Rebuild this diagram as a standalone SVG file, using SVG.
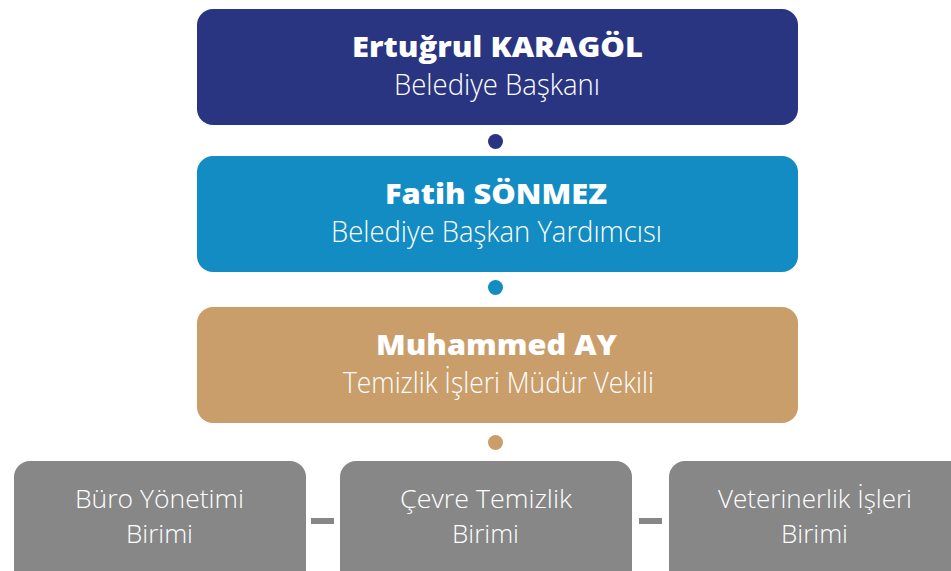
<svg xmlns="http://www.w3.org/2000/svg" width="951" height="571" viewBox="0 0 951 571">
<style>
.t{font-family:"Open Sans","Liberation Sans",sans-serif;font-weight:800;font-size:29px;fill:#fff;text-anchor:middle}
.s{font-family:"Open Sans","Liberation Sans",sans-serif;font-weight:300;font-size:29px;fill:#fff;text-anchor:middle}
.u{font-family:"Open Sans","Liberation Sans",sans-serif;font-weight:300;font-size:26px;fill:#fff;text-anchor:middle}
.g{fill:#878787}
</style>
<rect width="951" height="571" fill="#fff"/>
<g id="connectors">
<circle cx="495.5" cy="141.5" r="7.5" fill="#2A3582"/>
<circle cx="495.5" cy="287.5" r="7.5" fill="#128CC2"/>
<circle cx="495.5" cy="442.5" r="7.5" fill="#C99E6B"/>
<rect x="311" y="518" width="23" height="6" class="g"/>
<rect x="639" y="518" width="23" height="6" class="g"/>
</g>
<g id="n1">
<rect x="197" y="9" width="601" height="116" rx="16" fill="#2A3582"/>
<text class="t" x="497.5" y="57" textLength="291" lengthAdjust="spacingAndGlyphs">Ertuğrul KARAGÖL</text>
<text class="s" x="497" y="95" textLength="206" lengthAdjust="spacingAndGlyphs">Belediye Başkanı</text>
</g>
<g id="n2">
<rect x="197" y="156" width="601" height="116" rx="16" fill="#128CC2"/>
<text class="t" x="496" y="203.5" textLength="222" lengthAdjust="spacingAndGlyphs">Fatih SÖNMEZ</text>
<text class="s" x="496.5" y="241.7" textLength="331" lengthAdjust="spacingAndGlyphs">Belediye Başkan Yardımcısı</text>
</g>
<g id="n3">
<rect x="197" y="307" width="601" height="116" rx="16" fill="#C99E6B"/>
<text class="t" x="496.5" y="354.5" textLength="241" lengthAdjust="spacingAndGlyphs">Muhammed AY</text>
<text class="s" x="498.5" y="392.7" textLength="311" lengthAdjust="spacingAndGlyphs">Temizlik İşleri Müdür Vekili</text>
</g>
<g id="n4">
<rect x="14" y="461" width="292" height="130" rx="16" class="g"/>
<text class="u" x="159.5" y="507.7" textLength="169" lengthAdjust="spacingAndGlyphs">Büro Yönetimi</text>
<text class="u" x="159.5" y="542.7" textLength="67" lengthAdjust="spacingAndGlyphs">Birimi</text>
</g>
<g id="n5">
<rect x="340" y="461" width="292" height="130" rx="16" class="g"/>
<text class="u" x="486" y="507.7" textLength="172" lengthAdjust="spacingAndGlyphs">Çevre Temizlik</text>
<text class="u" x="485.5" y="542.7" textLength="67" lengthAdjust="spacingAndGlyphs">Birimi</text>
</g>
<g id="n6">
<rect x="669" y="461" width="300" height="130" rx="16" class="g"/>
<text class="u" x="815" y="507.7" textLength="194" lengthAdjust="spacingAndGlyphs">Veterinerlik İşleri</text>
<text class="u" x="814.5" y="542.7" textLength="67" lengthAdjust="spacingAndGlyphs">Birimi</text>
</g>
</svg>
